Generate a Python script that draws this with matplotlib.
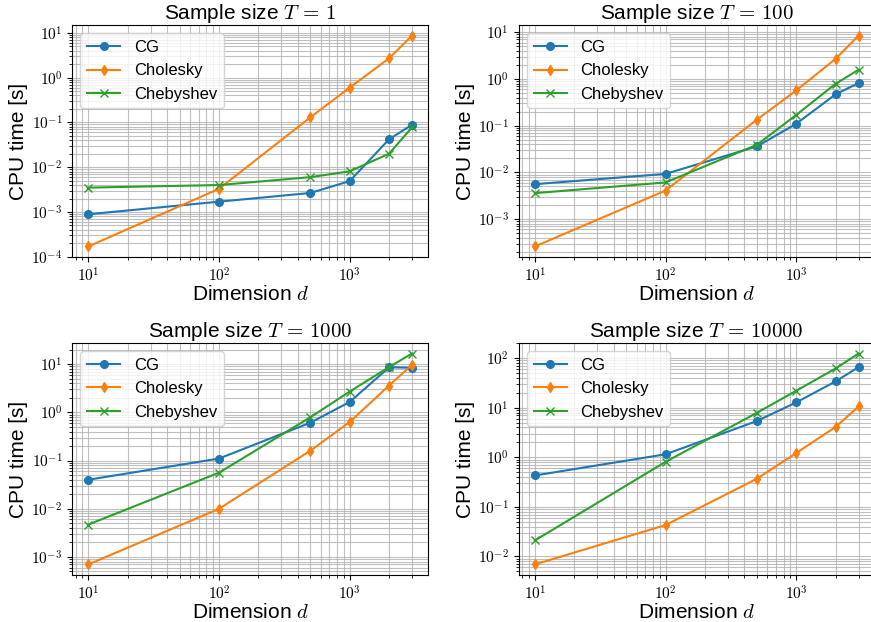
import numpy as np
import matplotlib
matplotlib.use("Agg")
import matplotlib.pyplot as plt
from matplotlib.ticker import FuncFormatter

plt.rcParams['font.family'] = ['Liberation Sans', 'DejaVu Sans']
plt.rcParams['mathtext.fontset'] = 'cm'

dims = [10, 100, 500, 1000, 2000, 3000]
sample_sizes = [1, 100, 1000, 10000]

cg_times = [
    [8.9e-4, 1.7e-3, 2.66e-3, 4.9e-3, 0.042, 0.089],
    [5.6e-3, 9.3e-3, 0.036, 0.11, 0.47, 0.82],
    [0.040, 0.11, 0.61, 1.64, 8.6, 8.4],
    [0.43, 1.15, 5.4, 12.8, 34.0, 66.0],
]
cholesky_times = [
    [1.7e-4, 3.3e-3, 0.13, 0.60, 2.7, 8.7],
    [2.6e-4, 4.1e-3, 0.135, 0.57, 2.7, 8.5],
    [7.0e-4, 0.010, 0.16, 0.63, 3.6, 9.7],
    [6.9e-3, 0.043, 0.37, 1.22, 4.1, 10.6],
]
chebyshev_times = [
    [3.5e-3, 4.0e-3, 6.0e-3, 8.1e-3, 0.020, 0.078],
    [3.6e-3, 6.1e-3, 0.039, 0.17, 0.79, 1.58],
    [4.7e-3, 0.056, 0.79, 2.7, 8.7, 16.6],
    [0.021, 0.81, 7.9, 22.0, 62.0, 124.0],
]


def pow10(v, pos):
    e = int(round(np.log10(v)))
    return r'$10^{%d}$' % e


fig = plt.figure(figsize=(8.71, 6.22), dpi=100)
W, H = 0.4089, 0.373
positions = [
    (0.0828, 0.5868),
    (0.5955, 0.5868),
    (0.0828, 0.0756),
    (0.5955, 0.0756),
]

for i, T in enumerate(sample_sizes):
    ax = fig.add_axes([positions[i][0], positions[i][1], W, H])
    ax.plot(dims, cg_times[i], marker='o', color='#1f77b4', lw=1.5, ms=5.5, label='CG')
    ax.plot(dims, cholesky_times[i], marker='d', color='#ff7f0e', lw=1.5, ms=5.5, label='Cholesky')
    ax.plot(dims, chebyshev_times[i], marker='x', color='#2ca02c', lw=1.5, ms=5.5, label='Chebyshev')
    ax.set_xscale('log')
    ax.set_yscale('log')
    ax.xaxis.set_major_formatter(FuncFormatter(pow10))
    ax.yaxis.set_major_formatter(FuncFormatter(pow10))
    ax.grid(True, which='both', color='#b0b0b0', lw=0.8, alpha=0.8)
    ax.set_title(r'Sample size $T\,=\,%d$' % T, fontsize=15, pad=3)
    ax.set_xlabel(r'Dimension $d$', fontsize=15, labelpad=0)
    ax.set_ylabel('CPU time [s]', fontsize=15, labelpad=2)
    ax.tick_params(labelsize=11)
    ax.legend(loc='upper left', fontsize=12)

fig.savefig('out.png', dpi=100)
